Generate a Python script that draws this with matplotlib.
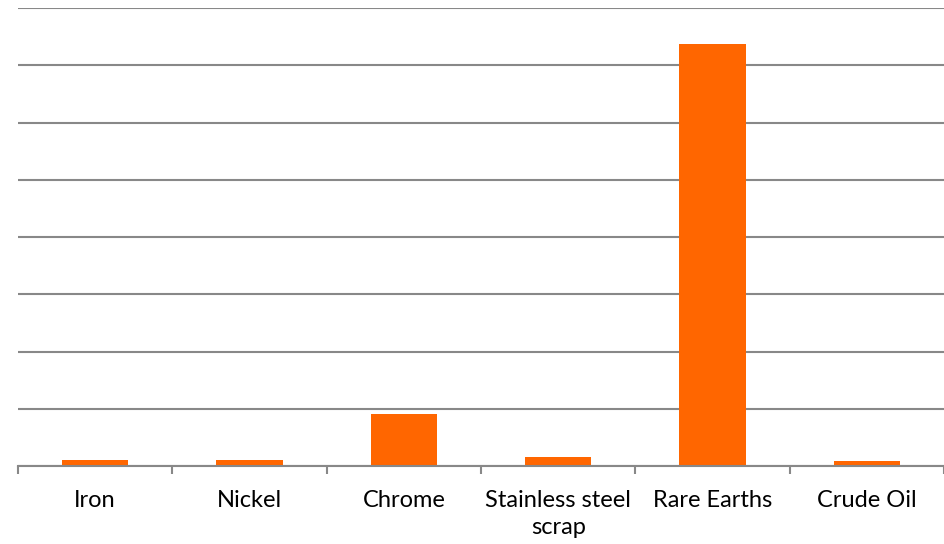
import numpy as np
import matplotlib.pyplot as plt

categories = ['Iron', 'Nickel', 'Chrome', 'Stainless steel\nscrap', 'Rare Earths', 'Crude Oil']
values = [0.10, 0.10, 0.91, 0.15, 7.37, 0.08]

plt.rcParams['font.family'] = ['Lato', 'DejaVu Sans']

fig = plt.figure(figsize=(9.45, 5.44), dpi=100)
ax = fig.add_axes([18 / 945, 78 / 544, 926 / 945, 458 / 544])

x = np.arange(len(categories))
ax.bar(x, values, width=0.43, color='#FF6600', zorder=3)

ax.set_xlim(-0.5, len(categories) - 0.5)
ax.set_ylim(0, 8)
ax.set_yticks(np.arange(0, 9))
ax.yaxis.grid(True, color='#888888', linewidth=1.5, zorder=0)
ax.tick_params(axis='y', left=False, labelleft=False)

ax.set_xticks(x)
ax.set_xticklabels(categories, fontsize=17, color='#000000', linespacing=1.4)
ax.tick_params(axis='x', which='major', length=0, pad=17)
ax.set_xticks(np.arange(len(categories) + 1) - 0.5, minor=True)
ax.tick_params(axis='x', which='minor', length=6, width=1.5, color='#888888')

for side in ['top', 'right', 'left']:
    ax.spines[side].set_visible(False)
ax.spines['bottom'].set_color('#888888')
ax.spines['bottom'].set_linewidth(1.5)
ax.spines['bottom'].set_zorder(4)

fig.savefig('out.png', dpi=100)
